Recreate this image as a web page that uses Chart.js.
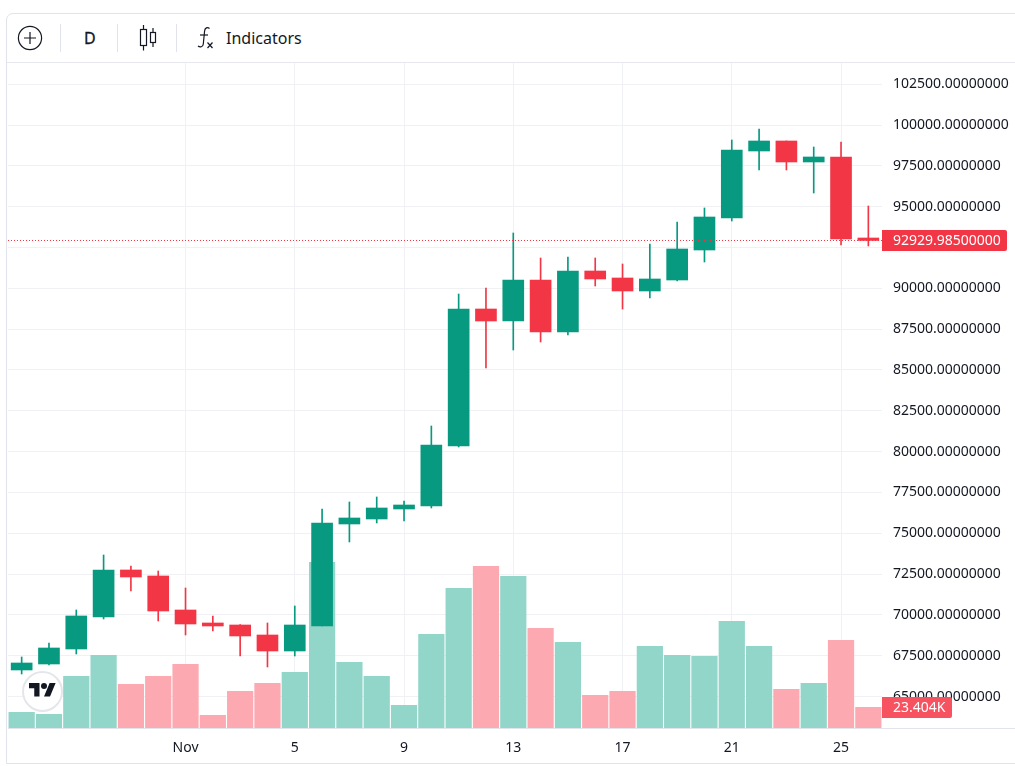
<!DOCTYPE html>
<html>
<head>
<meta charset="utf-8">
<title>Candles</title>
<script src="https://cdn.jsdelivr.net/npm/chart.js@4/dist/chart.umd.min.js"></script>
<style>
  html, body { margin: 0; padding: 0; background: #fff; width: 1015px; height: 766px; overflow: hidden; }
  body { position: relative; font-family: "Noto Sans", sans-serif; color: #131722; }
  #frame { position: absolute; left: 6px; top: 13px; width: 1040px; height: 751px; border: 1px solid #e0e3eb; border-top-left-radius: 7px; box-sizing: border-box; }
  #toolbar-line { position: absolute; left: 7px; right: 0; top: 62px; height: 1px; background: #e6e8ee; }
  .sep { position: absolute; top: 24px; width: 1px; height: 28px; background: #e0e3eb; }
  .tool { position: absolute; top: 24px; height: 28px; line-height: 28px; font-size: 16px; }
  svg { position: absolute; }
  #chart { position: absolute; left: 8px; top: 63px; }
  #logo { position: absolute; left: 22px; top: 671px; width: 41px; height: 41px; box-sizing: border-box; border-radius: 50%; background: #fff; border: 2px solid #e4e6eb; }
</style>
</head>
<body>
<div id="frame"></div>
<div id="toolbar-line"></div>

<svg style="left:17px;top:25px" width="26" height="26" viewBox="0 0 26 26" fill="none" stroke="#131722" stroke-width="1.2">
  <circle cx="13" cy="13" r="11.6"/>
  <path d="M7 13h12M13 7v12"/>
</svg>
<div class="sep" style="left:60px"></div>
<div class="tool" style="left:84px;-webkit-text-stroke:0.3px #131722">D</div>
<div class="sep" style="left:117px"></div>
<svg style="left:138px;top:24px" width="20" height="28" viewBox="0 0 20 28" fill="none" stroke="#131722" stroke-width="1.2">
  <rect x="2.5" y="5.5" width="6" height="16"/>
  <path d="M5.5 1v4.5M5.5 21.5v5"/>
  <rect x="12.5" y="8.5" width="5" height="10"/>
  <path d="M15 4v4.5M15 18.5v4.500"/>
</svg>
<div class="sep" style="left:176px"></div>
<svg style="left:195px;top:25px" width="22" height="26" viewBox="0 0 22 26" fill="none" stroke="#131722" stroke-width="1.2">
  <path d="M14.500 3.500c-2-1.800-4.600-.8-4.900 2.500l-1.300 13c-.3 3-3.200 3.800-5.300 2"/>
  <path d="M5 10h8"/>
  <path d="M12.500 17.500l5 5.500M17.500 17.500l-5 5.500"/>
</svg>
<div class="tool" style="left:226px">Indicators</div>

<canvas id="chart" width="1007" height="700"></canvas>

<div id="logo">
  <svg style="left:5px;top:7px" width="27" height="21" viewBox="0 0 36 28" fill="#131722">
    <path d="M14 22H7V11H0V4h14v18zM28 22h-8l7.500-18h8L28 22z"/>
    <circle cx="20" cy="8" r="4"/>
  </svg>
</div>

<script>
const dayLabels = ['', '', '', '', '', '', 'Nov', '', '', '', '5', '', '', '', '9', '', '', '', '13', '', '', '', '17', '', '', '', '21', '', '', '', '25', ''];

const opens  = [66625, 66992, 67911, 69870, 72749, 72381, 70299, 69503, 69380, 68768, 67788, 69319, 75566, 75872, 76484, 76668, 80343, 88732, 87997, 90508, 87324, 91059, 90631, 89835, 90508, 92345, 94305, 98408, 99021, 97735, 98041, 93080];
const closes = [67053, 67972, 69932, 72749, 72320, 70238, 69442, 69319, 68707, 67788, 69380, 75627, 75933, 76546, 76729, 80404, 88732, 87997, 90508, 87324, 91059, 90570, 89835, 90570, 92407, 94366, 98469, 99021, 97735, 98041, 93019, 92929.985];
const highs  = [67421, 68278, 70299, 73667, 72994, 72687, 71646, 69932, 69400, 69503, 70544, 76484, 76913, 77219, 76974, 81567, 89651, 90018, 93387, 91856, 91917, 91856, 91488, 92713, 94060, 94918, 99082, 99755, 99021, 98653, 98959, 95040];
const lows   = [66380, 66931, 67605, 69748, 71463, 69625, 68768, 69013, 67482, 66808, 67482, 69319, 74463, 75627, 75749, 76546, 80281, 85119, 86221, 86711, 87140, 90141, 88732, 89406, 90447, 91611, 94121, 97245, 97245, 95836, 92652, 92590];
const volumes = [17830, 15600, 57950, 81360, 49040, 57950, 71330, 14490, 41240, 50150, 62410, 185000, 73560, 57950, 25630, 104760, 156030, 180550, 169400, 111450, 95850, 36780, 41240, 91390, 81360, 80240, 119250, 91390, 43470, 50150, 98080, 23404];

const priceTicks = [65000, 67500, 70000, 72500, 75000, 77500, 80000, 82500, 85000, 87500, 90000, 92500, 95000, 97500, 100000, 102500];
const priceMin = 63072;
const priceMax = 103797;
const volumeMax = 741000;
const lastPrice = 92929.985;

const GREEN = '#089981';
const RED = '#f23645';
const GREEN_VOL = '#92d5c9';
const RED_VOL = '#fda9b1';
const GRID = '#f0f1f4';
const FONT = '"Noto Sans", sans-serif';

const isUp = opens.map((o, i) => closes[i] >= o);
const candleColors = isUp.map(up => up ? GREEN : RED);
const volumeColors = isUp.map(up => up ? GREEN_VOL : RED_VOL);

// last price line, axis line and the two tags on the price scale
const overlayPlugin = {
    id: 'overlay',
    afterDraw(chart) {
        const { ctx, chartArea, scales } = chart;
        const lastY = Math.round(scales.y.getPixelForValue(lastPrice)) + 0.5;

        ctx.save();
        ctx.strokeStyle = RED;
        ctx.lineWidth = 1;
        ctx.setLineDash([1, 2]);
        ctx.beginPath();
        ctx.moveTo(chartArea.left, lastY);
        ctx.lineTo(chartArea.right, lastY);
        ctx.stroke();
        ctx.setLineDash([]);

        ctx.strokeStyle = '#e0e3eb';
        ctx.beginPath();
        ctx.moveTo(chartArea.left, chartArea.bottom + 0.5);
        ctx.lineTo(chart.width, chartArea.bottom + 0.5);
        ctx.stroke();

        const tag = (text, y, w, color) => {
            ctx.fillStyle = color;
            ctx.beginPath();
            ctx.roundRect(chartArea.right, y - 10.5, w, 21, [0, 2, 2, 0]);
            ctx.fill();
            ctx.fillStyle = '#fff';
            ctx.font = '14px ' + FONT;
            ctx.textAlign = 'left';
            ctx.textBaseline = 'middle';
            ctx.fillText(text, chartArea.right + 11, y + 0.5);
        };
        tag(lastPrice.toFixed(8), lastY, 125, RED);
        const lastVol = volumes[volumes.length - 1];
        tag((lastVol / 1000).toFixed(3) + 'K', chartArea.bottom - 20.5, 70, '#f7525f');
        ctx.restore();
    }
};

new Chart(document.getElementById('chart'), {
    type: 'bar',
    data: {
        labels: dayLabels,
        datasets: [
            {
                label: 'Body',
                data: opens.map((o, i) => [o, closes[i]]),
                backgroundColor: candleColors,
                barThickness: 21,
                grouped: false,
                yAxisID: 'y',
                order: 1
            },
            {
                label: 'Wick',
                data: lows.map((l, i) => [l, highs[i]]),
                backgroundColor: candleColors,
                barThickness: 1,
                grouped: false,
                yAxisID: 'y',
                order: 2
            },
            {
                label: 'Volume',
                data: volumes,
                backgroundColor: volumeColors,
                categoryPercentage: 1,
                barPercentage: 0.96,
                grouped: false,
                yAxisID: 'yVol',
                order: 3
            }
        ]
    },
    options: {
        responsive: false,
        animation: false,
        layout: { padding: 0 },
        plugins: { legend: { display: false }, tooltip: { enabled: false } },
        scales: {
            x: {
                offset: true,
                afterFit(scale) { scale.height = 35; },
                grid: {
                    offset: false,
                    drawTicks: false,
                    color: c => dayLabels[c.index] ? GRID : 'transparent'
                },
                border: { display: false },
                ticks: {
                    autoSkip: false,
                    maxRotation: 0,
                    padding: 12,
                    color: '#131722',
                    font: { family: FONT, size: 14 },
                    callback: (v, i) => dayLabels[i]
                }
            },
            y: {
                position: 'right',
                min: priceMin,
                max: priceMax,
                afterBuildTicks(scale) { scale.ticks = priceTicks.map(value => ({ value })); },
                afterFit(scale) {
                    scale.width = 133;
                    scale.paddingTop = 0;
                    scale.paddingBottom = 0;
                },
                grid: { drawTicks: false, color: GRID },
                border: { display: false },
                ticks: {
                    autoSkip: false,
                    padding: 11,
                    color: '#131722',
                    font: { family: FONT, size: 14 },
                    callback: v => Number(v).toFixed(8)
                }
            },
            yVol: {
                display: false,
                position: 'left',
                min: 0,
                max: volumeMax
            }
        }
    },
    plugins: [overlayPlugin]
});
</script>
</body>
</html>
